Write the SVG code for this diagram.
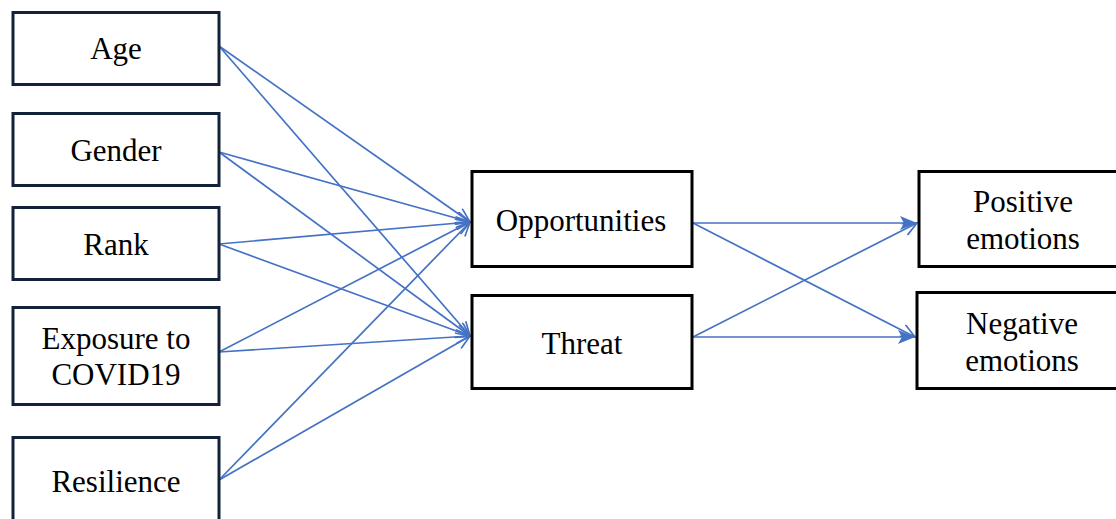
<svg xmlns="http://www.w3.org/2000/svg" width="1116" height="519" viewBox="0 0 1116 519">
<defs>
<style>
.lb{fill:#fff;stroke:#12223a;stroke-width:3}
.mb{fill:#fff;stroke:#000;stroke-width:3}
.t{font-family:'Liberation Serif','Times New Roman',serif;font-size:31px;fill:#000;text-anchor:middle}
.c{stroke:#4472c4;stroke-width:1.7;fill:none}
</style>
<marker id="open" viewBox="0 0 16 14" refX="15" refY="7" markerWidth="16" markerHeight="14" markerUnits="userSpaceOnUse" orient="auto">
<path d="M1,0.5 L15,7 L1,13.5" fill="none" stroke="#4472c4" stroke-width="1.7"/>
</marker>
<marker id="fill" viewBox="0 0 18 14" refX="17" refY="7" markerWidth="18" markerHeight="14" markerUnits="userSpaceOnUse" orient="auto">
<path d="M0,0 L17,7 L0,14 L4,7 Z" fill="#4472c4"/>
</marker>
</defs>
<rect width="1116" height="519" fill="#fff"/>
<g id="connectors">
<line class="c" x1="219" y1="46" x2="470" y2="222" marker-end="url(#open)"/>
<line class="c" x1="219" y1="46" x2="470" y2="336" marker-end="url(#open)"/>
<line class="c" x1="219" y1="152" x2="470" y2="222" marker-end="url(#open)"/>
<line class="c" x1="219" y1="152" x2="470" y2="336" marker-end="url(#open)"/>
<line class="c" x1="219" y1="244" x2="470" y2="222" marker-end="url(#open)"/>
<line class="c" x1="219" y1="244" x2="470" y2="336" marker-end="url(#open)"/>
<line class="c" x1="219" y1="352" x2="470" y2="222" marker-end="url(#open)"/>
<line class="c" x1="219" y1="352" x2="470" y2="336" marker-end="url(#open)"/>
<line class="c" x1="219" y1="480" x2="470" y2="222" marker-end="url(#open)"/>
<line class="c" x1="219" y1="480" x2="470" y2="336" marker-end="url(#open)"/>
<line class="c" x1="693" y1="223" x2="917" y2="223" marker-end="url(#fill)"/>
<line class="c" x1="693" y1="223" x2="915" y2="337" marker-end="url(#open)"/>
<line class="c" x1="693" y1="337" x2="917" y2="223" marker-end="url(#open)"/>
<line class="c" x1="693" y1="337" x2="915" y2="337" marker-end="url(#fill)"/>
</g>
<g id="age"><rect class="lb" x="13" y="12.5" width="206" height="72"/><text class="t" x="116" y="59">Age</text></g>
<g id="gender"><rect class="lb" x="13" y="113.5" width="206" height="72"/><text class="t" x="116" y="161">Gender</text></g>
<g id="rank"><rect class="lb" x="13" y="207.5" width="206" height="72"/><text class="t" x="116" y="255">Rank</text></g>
<g id="exposure"><rect class="lb" x="13" y="307.5" width="206" height="97"/><text class="t" x="116" y="349">Exposure to</text><text class="t" x="116" y="385">COVID19</text></g>
<g id="resilience"><rect class="lb" x="13" y="437.5" width="206" height="90"/><text class="t" x="116" y="492">Resilience</text></g>
<g id="opportunities"><rect class="mb" x="472" y="171.5" width="220" height="95"/><text class="t" x="581" y="231">Opportunities</text></g>
<g id="threat"><rect class="mb" x="472" y="295.5" width="220" height="93"/><text class="t" x="582" y="354">Threat</text></g>
<g id="positive"><rect class="mb" x="919" y="171.5" width="210" height="95"/><text class="t" x="1023" y="212">Positive</text><text class="t" x="1023" y="249">emotions</text></g>
<g id="negative"><rect class="mb" x="917" y="292.5" width="212" height="96"/><text class="t" x="1022" y="334">Negative</text><text class="t" x="1022" y="371">emotions</text></g>
</svg>
